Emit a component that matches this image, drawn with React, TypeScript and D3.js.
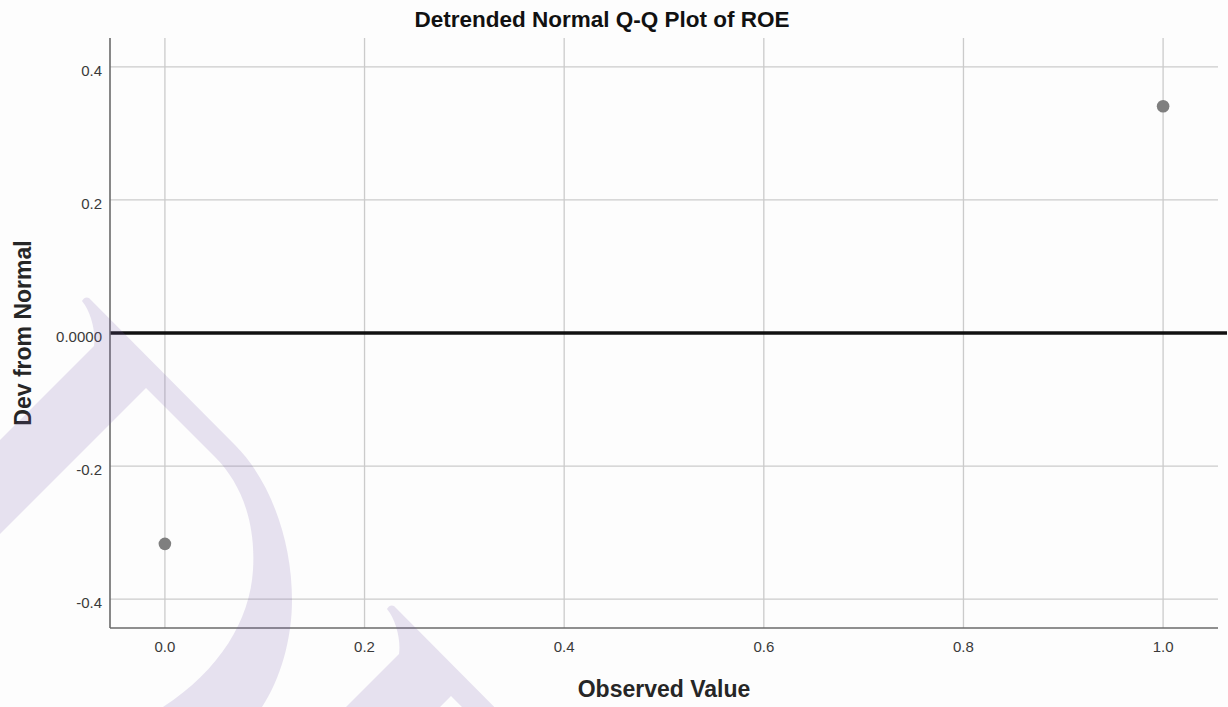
import React from "react";
import * as d3 from "d3";

// Detrended normal Q-Q data for ROE
const observedValues = [0.0, 1.0];
const deviations = [-0.317, 0.341];

const xTicks = [0.0, 0.2, 0.4, 0.6, 0.8, 1.0];
const xTickLabels = ["0.0", "0.2", "0.4", "0.6", "0.8", "1.0"];
const yTicks = [0.4, 0.2, 0.0, -0.2, -0.4];
const yTickLabels = ["0.4", "0.2", "0.0000", "-0.2", "-0.4"];

const W = 1228;
const H = 707;
const FONT = "'Liberation Sans', Arial, Helvetica, sans-serif";

// Plot frame
const left = 110;
const right = 1218;
const top = 38;
const bottom = 628;

// Decorative background glyph outline
const glyphPath =
  "M0,440 L94,346 C96,332 91,312 82,301 C84,297 87,297 89,298 L235,445 " +
  "C270,480 292,540 292,600 C292,640 280,680 262,707 L163,707 " +
  "C220,670 250,620 253,570 C256,520 240,482 215,457 L146,388 L0,534 Z";

export default function App() {
  const x = d3.scaleLinear().domain([-0.055, 1.055]).range([left, right]);
  const y = d3.scaleLinear().domain([-0.4435, 0.4435]).range([bottom, top]);

  const points = observedValues.map((v, i) => ({ x: v, y: deviations[i] }));

  return (
    <svg
      width={W}
      height={H}
      viewBox={`0 0 ${W} ${H}`}
      style={{ position: "absolute", left: 0, top: 0, display: "block" }}
    >
      <rect x={0} y={0} width={W} height={H} fill="#fdfdfd" />

      {/* grid */}
      <g stroke="#cbcbcb" strokeWidth={1.3}>
        {yTicks.map((t) => (
          <line key={"gy" + t} x1={left} x2={right} y1={y(t)} y2={y(t)} />
        ))}
        {xTicks.map((t) => (
          <line key={"gx" + t} x1={x(t)} x2={x(t)} y1={top} y2={bottom} />
        ))}
      </g>

      {/* reference line at zero deviation */}
      <line
        x1={left}
        x2={W - 1}
        y1={y(0)}
        y2={y(0)}
        stroke="#111"
        strokeWidth={3.6}
      />

      {/* axes */}
      <line x1={left} x2={left} y1={top} y2={bottom} stroke="#6a6a6a" strokeWidth={1.6} />
      <line x1={left} x2={right} y1={bottom} y2={bottom} stroke="#6a6a6a" strokeWidth={1.6} />

      {/* tick labels */}
      <g fontFamily={FONT} fontSize={15} fill="#3a3a3a">
        {yTicks.map((t, i) => (
          <text key={"ty" + t} x={left - 8} y={y(t) + 9} textAnchor="end">
            {yTickLabels[i]}
          </text>
        ))}
        {xTicks.map((t, i) => (
          <text key={"tx" + t} x={x(t)} y={652} textAnchor="middle">
            {xTickLabels[i]}
          </text>
        ))}
      </g>

      {/* points */}
      {points.map((p, i) => (
        <circle key={i} cx={x(p.x)} cy={y(p.y)} r={6.3} fill="#7f7f7f" />
      ))}

      {/* titles */}
      <text
        x={602}
        y={27}
        textAnchor="middle"
        fontFamily={FONT}
        fontWeight="bold"
        fontSize={22.5}
        fill="#111"
      >
        Detrended Normal Q-Q Plot of ROE
      </text>
      <text
        x={(left + right) / 2}
        y={697}
        textAnchor="middle"
        fontFamily={FONT}
        fontWeight="bold"
        fontSize={23}
        fill="#262626"
      >
        Observed Value
      </text>
      <text
        transform={`translate(31, ${y(0)}) rotate(-90)`}
        textAnchor="middle"
        fontFamily={FONT}
        fontWeight="bold"
        fontSize={23}
        fill="#262626"
      >
        Dev from Normal
      </text>

      {/* translucent background glyphs */}
      <g fill="rgb(118,88,170)" fillOpacity={0.17}>
        <path d={glyphPath} />
        <path d={glyphPath} transform="translate(305,308)" />
      </g>
    </svg>
  );
}
